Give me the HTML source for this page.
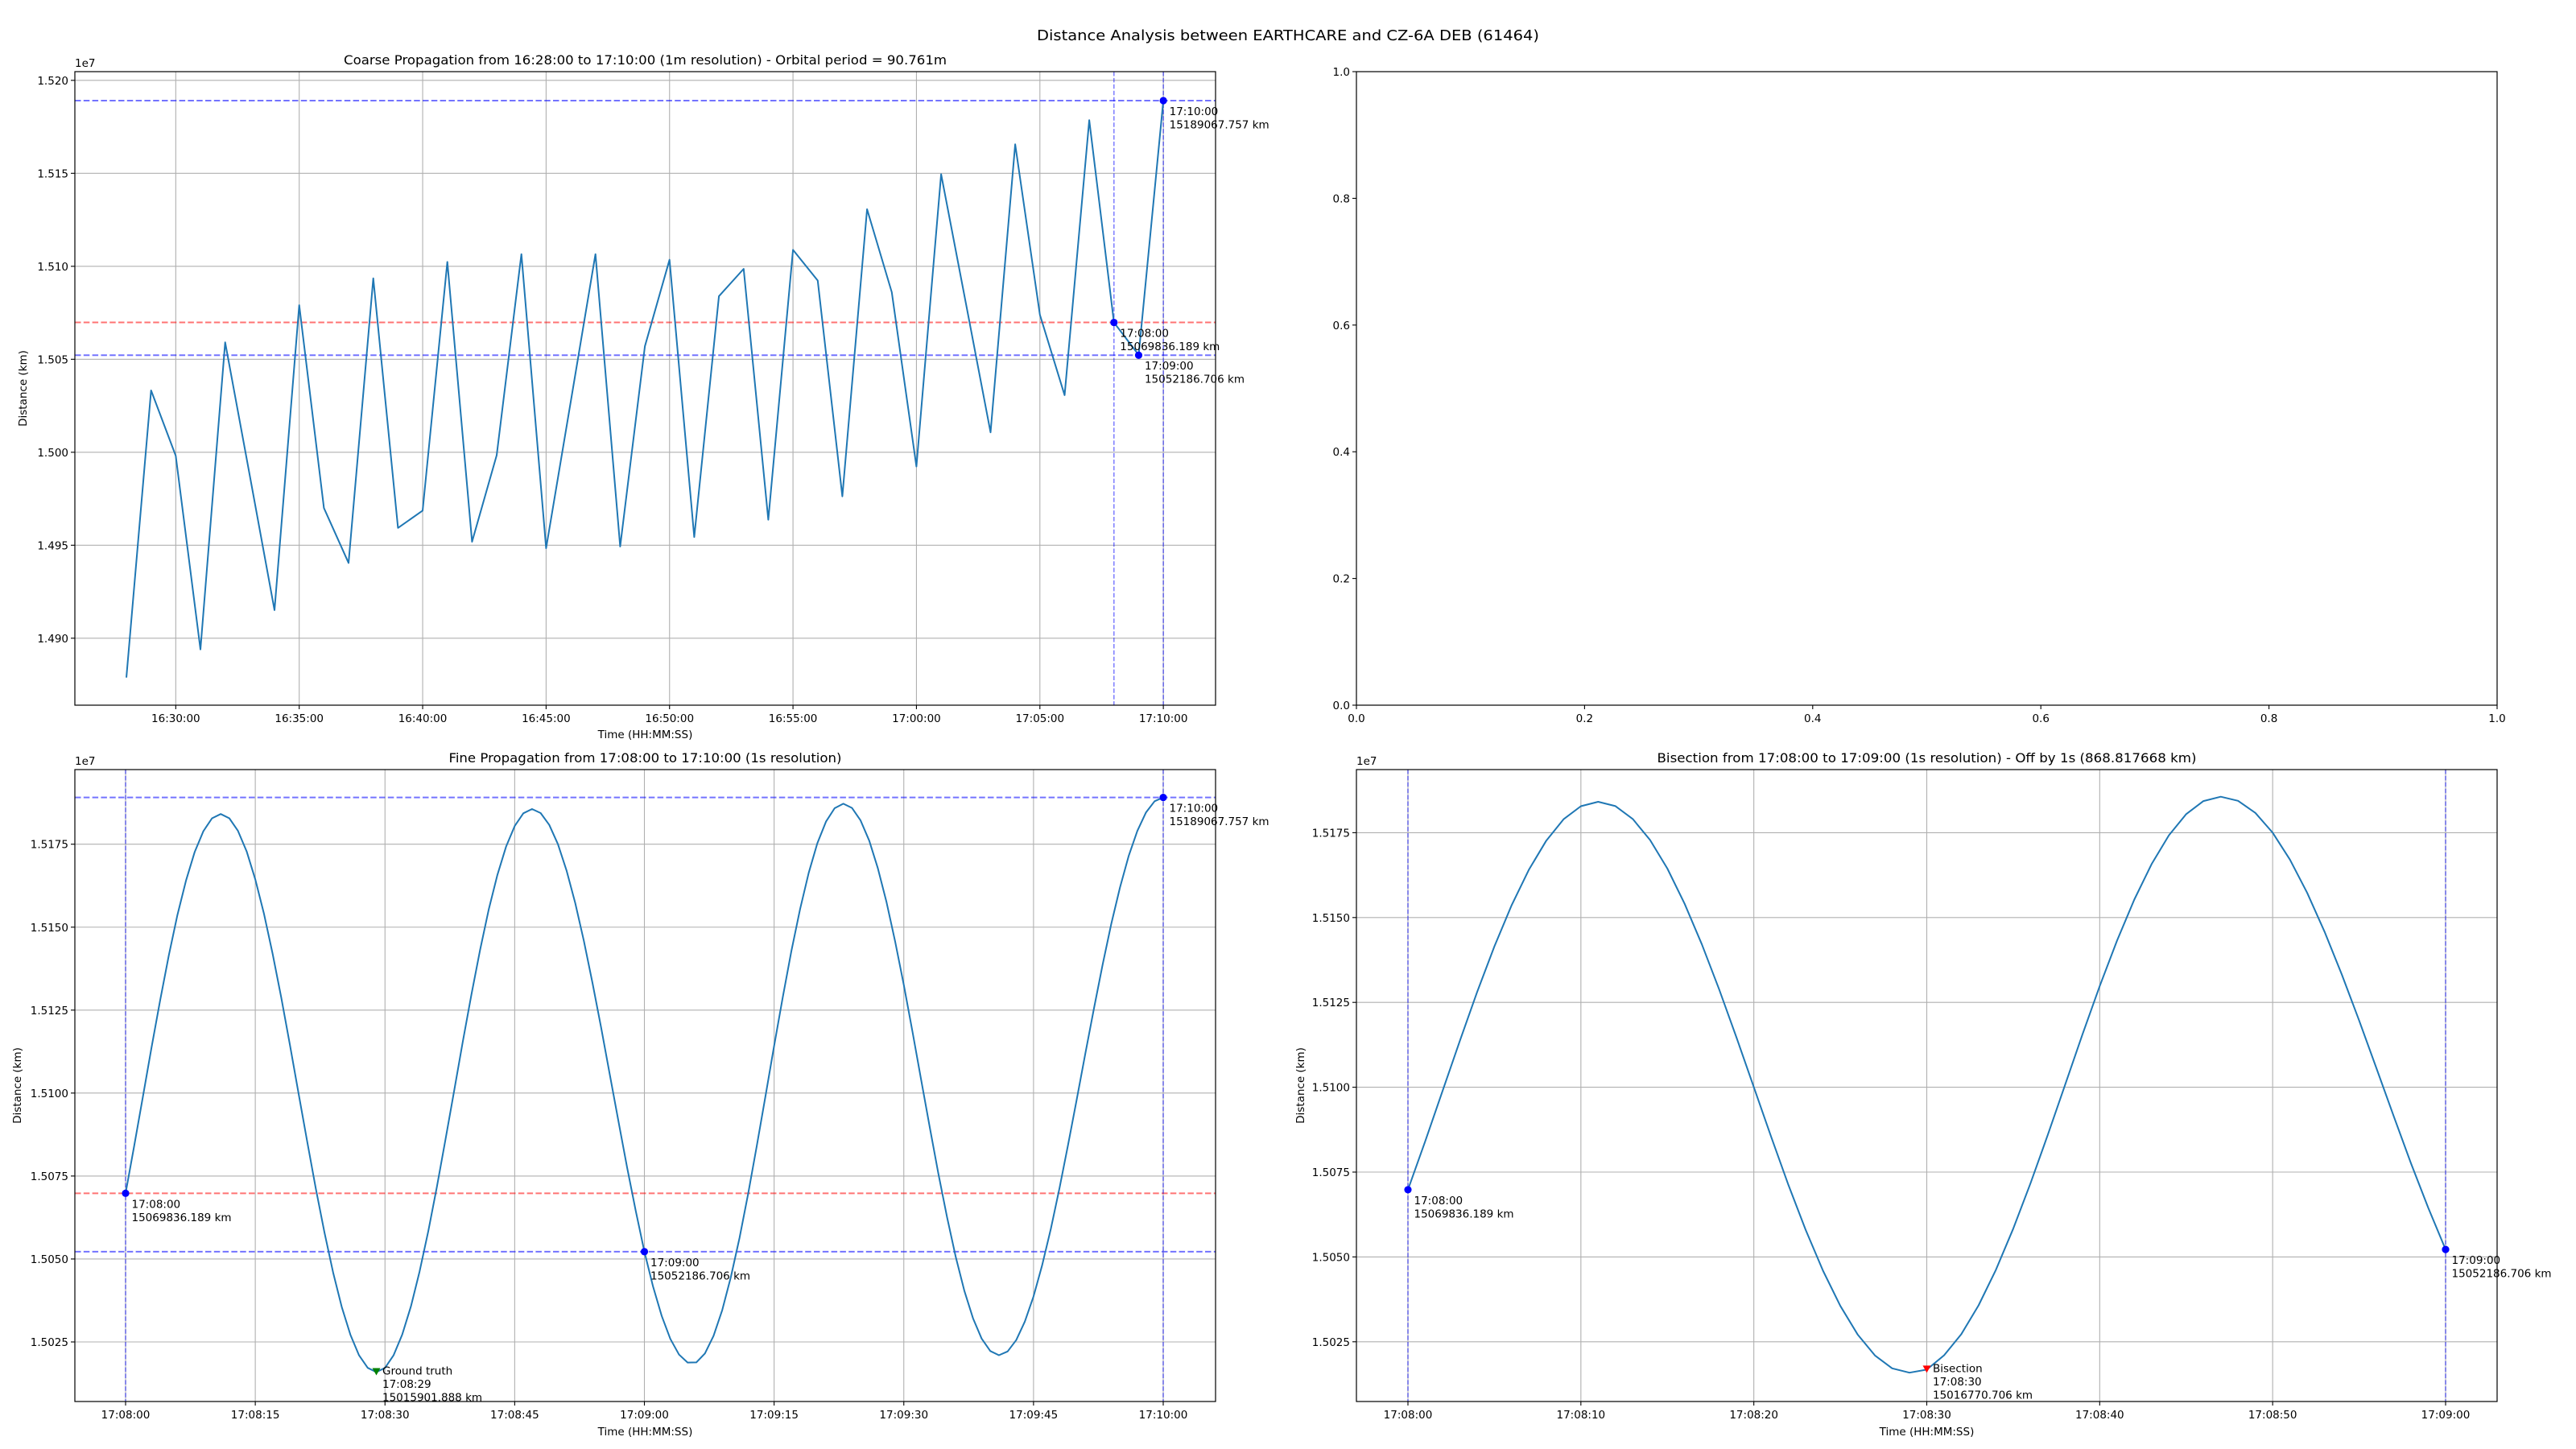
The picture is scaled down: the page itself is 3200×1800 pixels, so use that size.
<!DOCTYPE html>
<html><head><meta charset="utf-8">
<style>
html,body{margin:0;padding:0;background:#fff;}
svg{display:block;font-family:"DejaVu Sans","Liberation Sans",sans-serif;}
</style></head>
<body>
<svg id="s" width="3200" height="1800" viewBox="0 0 3200 1800" xmlns="http://www.w3.org/2000/svg">
<rect width="3200" height="1800" fill="#fff"/>
<text x="1600" y="50" font-size="18" text-anchor="middle" textLength="624" lengthAdjust="spacingAndGlyphs">Distance Analysis between EARTHCARE and CZ-6A DEB (61464)</text>
</svg>
<script>
var S=document.getElementById('s'),NS='http://www.w3.org/2000/svg';
function el(t,a,txt){var e=document.createElementNS(NS,t);for(var k in a)e.setAttribute(k,a[k]);if(txt!==undefined)e.textContent=txt;S.appendChild(e);return e;}
function line(x1,y1,x2,y2,c,w,d){var a={x1:x1,y1:y1,x2:x2,y2:y2,stroke:c,'stroke-width':w};if(d)a['stroke-dasharray']=d;return el('line',a);}
function txt(x,y,s,fs,anc,extra){var a={x:x,y:y,'font-size':fs||13.5,fill:'#000'};if(anc)a['text-anchor']=anc;for(var k in extra)a[k]=extra[k];return el('text',a,s);}
function frame(L,T,R,B){el('rect',{x:L,y:T,width:R-L,height:B-T,fill:'none',stroke:'#000','stroke-width':1.2});}
function xtick(x,B,lab,grid,T){if(grid)line(x,T,x,B,'#b0b0b0',1.1);line(x,B,x,B+5,'#000',1.1);txt(x,B+21,lab,13.5,'middle');}
function ytick(y,L,R,lab,grid){if(grid)line(L,y,R,y,'#b0b0b0',1.1);line(L-5,y,L,y,'#000',1.1);txt(L-8,y+5,lab,13.5,'end');}
function poly(pts,c){el('polyline',{points:pts.map(function(p){return p[0].toFixed(1)+','+p[1].toFixed(1)}).join(' '),fill:'none',stroke:c||'#1f77b4','stroke-width':2,'stroke-linejoin':'round'});}
function hd(L,R,y,c){line(L,y,R,y,c,2,'7.5,3.3').setAttribute('stroke-opacity',0.55);}
function vd(x,T,B){line(x,T,x,B,'#0000ff',1.4,'5.5,2.4').setAttribute('stroke-opacity',0.55);}
function dot(x,y){el('circle',{cx:x,cy:y,r:4.6,fill:'#0000ff'});}
function ann(x,y,lines,dy){for(var i=0;i<lines.length;i++)txt(x+7.5,y+(dy||18)+i*16.5,lines[i],13.5);}
function tri(x,y,c){el('polygon',{points:(x-5)+','+(y-5)+' '+(x+5)+','+(y-5)+' '+x+','+(y+4),fill:c});}

// ---------- Coarse (top-left) ----------
(function(){
var L=93,T=89,R=1510,B=876;
var X=function(i){return 157+i*30.67;};
var Y=function(v){return 792.8-(v-1.490)/0.005*115.5;};
var labs=['16:30:00','16:35:00','16:40:00','16:45:00','16:50:00','16:55:00','17:00:00','17:05:00','17:10:00'];
for(var k=0;k<9;k++)xtick(X(2+5*k),B,labs[k],true,T);
var yl=['1.490','1.495','1.500','1.505','1.510','1.515','1.520'];
for(var k=0;k<7;k++)ytick(Y(1.490+0.005*k),L,R,yl[k],true);
txt(L,T-6,'1e7',13.5);
var zy=[1456,792,943,1391,681,990,1300,595,1064,1191,533,1110,1070,495,1142,942,477,1157,817,477,1153,690,490,1131,574,511,1091,467,538,1037,373,565,968,292,590,889,223,617,803,167,635,710,122];
var pts=zy.map(function(z,i){return [X(i),59.5+0.5372*z];});
hd(L,R,Y(1.50698),'#ff0000');hd(L,R,Y(1.50522),'#0000ff');hd(L,R,Y(1.51891),'#0000ff');
vd(X(40),T,B);vd(X(42),T,B);
poly(pts);
dot(X(40),Y(1.50698));dot(X(41),Y(1.50522));dot(X(42),Y(1.51891));
ann(X(40),Y(1.50698),['17:08:00','15069836.189 km']);
ann(X(41),Y(1.50522),['17:09:00','15052186.706 km']);
ann(X(42),Y(1.51891),['17:10:00','15189067.757 km']);
frame(L,T,R,B);
txt((L+R)/2,80,'Coarse Propagation from 16:28:00 to 17:10:00 (1m resolution) - Orbital period = 90.761m',16,'middle',{textLength:749,lengthAdjust:'spacingAndGlyphs'});
txt((L+R)/2,917,'Time (HH:MM:SS)',13.5,'middle');
txt(0,0,'Distance (km)',13.5,'middle',{transform:'translate(33,'+((T+B)/2)+') rotate(-90)'});
})();

// ---------- Empty (top-right) ----------
(function(){
var L=1685,T=89,R=3102,B=876;
for(var k=0;k<=5;k++){var x=L+(R-L)*k/5;line(x,B,x,B+5,'#000',1.1);txt(x,B+21,(k/5).toFixed(1),13.5,'middle');
var y=B-(B-T)*k/5;line(L-5,y,L,y,'#000',1.1);txt(L-8,y+5,(k/5).toFixed(1),13.5,'end');}
frame(L,T,R,B);
})();

// curve model
var ext=[[-7,1.50137],[11,1.51841],[29,1.50159],[47,1.51856],[65.5,1.50185],[83,1.51872],[101,1.5021],[120,1.51891]];
function V(t){for(var i=0;i<ext.length-1;i++){var a=ext[i],b=ext[i+1];if(t>=a[0]&&t<=b[0]){var f=(1-Math.cos(Math.PI*(t-a[0])/(b[0]-a[0])))/2;return a[1]+(b[1]-a[1])*f;}}return ext[ext.length-1][1];}

// ---------- Fine (bottom-left) ----------
(function(){
var L=93,T=956,R=1510,B=1741;
var X=function(t){return 156+t*(1445-156)/120;};
var Y=function(v){return 1667-(v-1.5025)/0.0025*103.05;};
var labs=['17:08:00','17:08:15','17:08:30','17:08:45','17:09:00','17:09:15','17:09:30','17:09:45','17:10:00'];
for(var k=0;k<9;k++)xtick(X(15*k),B,labs[k],true,T);
var yl=['1.5025','1.5050','1.5075','1.5100','1.5125','1.5150','1.5175'];
for(var k=0;k<7;k++)ytick(Y(1.5025+0.0025*k),L,R,yl[k],true);
txt(L,T-6,'1e7',13.5);
hd(L,R,Y(1.50698),'#ff0000');hd(L,R,Y(1.50522),'#0000ff');hd(L,R,Y(1.51891),'#0000ff');
vd(X(0),T,B);vd(X(120),T,B);
var pts=[];for(var t=0;t<=120;t++){var v=V(t);if(t==0)v=1.50698;if(t==60)v=1.50522;if(t==120)v=1.51891;pts.push([X(t),Y(v)]);}
poly(pts);
dot(X(0),Y(1.50698));dot(X(60),Y(1.50522));dot(X(120),Y(1.51891));
ann(X(0),Y(1.50698),['17:08:00','15069836.189 km']);
ann(X(60),Y(1.50522),['17:09:00','15052186.706 km']);
ann(X(120),Y(1.51891),['17:10:00','15189067.757 km']);
tri(X(29),Y(1.50159),'#008000');
ann(X(29),Y(1.50159),['Ground truth','17:08:29','15015901.888 km'],3);
frame(L,T,R,B);
txt((L+R)/2,947,'Fine Propagation from 17:08:00 to 17:10:00 (1s resolution)',16,'middle',{textLength:488,lengthAdjust:'spacingAndGlyphs'});
txt((L+R)/2,1783,'Time (HH:MM:SS)',13.5,'middle');
txt(0,0,'Distance (km)',13.5,'middle',{transform:'translate(26,'+((T+B)/2)+') rotate(-90)'});
})();

// ---------- Bisection (bottom-right) ----------
(function(){
var L=1685,T=956,R=3102,B=1741;
var X=function(t){return 1749+t*(3038-1749)/60;};
var Y=function(v){return 1666.8-(v-1.5025)/0.0025*105.4;};
var labs=['17:08:00','17:08:10','17:08:20','17:08:30','17:08:40','17:08:50','17:09:00'];
for(var k=0;k<7;k++)xtick(X(10*k),B,labs[k],true,T);
var yl=['1.5025','1.5050','1.5075','1.5100','1.5125','1.5150','1.5175'];
for(var k=0;k<7;k++)ytick(Y(1.5025+0.0025*k),L,R,yl[k],true);
txt(L,T-6,'1e7',13.5);
vd(X(0),T,B);vd(X(60),T,B);
var pts=[];for(var t=0;t<=60;t++){var v=V(t);if(t==0)v=1.50698;if(t==60)v=1.50522;if(t==30)v=1.50168;pts.push([X(t),Y(v)]);}
poly(pts);
dot(X(0),Y(1.50698));dot(X(60),Y(1.50522));
ann(X(0),Y(1.50698),['17:08:00','15069836.189 km']);
ann(X(60),Y(1.50522),['17:09:00','15052186.706 km']);
tri(X(30),Y(1.50168),'#ff0000');
ann(X(30),Y(1.50168),['Bisection','17:08:30','15016770.706 km'],3);
frame(L,T,R,B);
txt((L+R)/2,947,'Bisection from 17:08:00 to 17:09:00 (1s resolution) - Off by 1s (868.817668 km)',16,'middle',{textLength:670,lengthAdjust:'spacingAndGlyphs'});
txt((L+R)/2,1783,'Time (HH:MM:SS)',13.5,'middle');
txt(0,0,'Distance (km)',13.5,'middle',{transform:'translate(1620,'+((T+B)/2)+') rotate(-90)'});
})();
</script>
</body></html>
